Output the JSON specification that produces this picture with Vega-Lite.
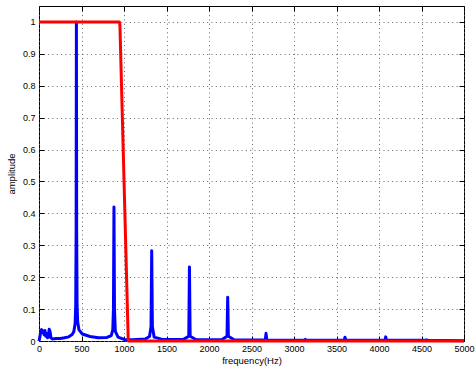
{
  "$schema": "https://vega.github.io/schema/vega-lite/v6.json",
  "width": 425,
  "height": 335,
  "autosize": {"type": "none"},
  "padding": {"left": 39, "top": 6, "right": 11, "bottom": 26},
  "background": "white",
  "config": {
    "view": {"stroke": "black", "strokeWidth": 1},
    "font": "Liberation Sans",
    "axis": {
      "domain": false,
      "tickColor": "black",
      "tickSize": -5,
      "tickWidth": 1,
      "labelFontSize": 9,
      "labelColor": "black",
      "titleFontSize": 9.5,
      "titleFontWeight": "normal",
      "titleColor": "black",
      "gridColor": "#666",
      "gridDash": [1, 3.3],
      "gridOpacity": 1,
      "gridWidth": 1
    }
  },
  "datasets": {
    "spectrum": [
      {"f": 0, "a": 0}, {"f": 10, "a": 0.012}, {"f": 20, "a": 0.03}, {"f": 30, "a": 0.036},
      {"f": 40, "a": 0.027}, {"f": 50, "a": 0.031}, {"f": 60, "a": 0.02}, {"f": 70, "a": 0.033},
      {"f": 80, "a": 0.015}, {"f": 90, "a": 0.024}, {"f": 100, "a": 0.01}, {"f": 110, "a": 0.012},
      {"f": 120, "a": 0.037}, {"f": 130, "a": 0.03}, {"f": 140, "a": 0.01}, {"f": 160, "a": 0.006},
      {"f": 200, "a": 0.008}, {"f": 250, "a": 0.008}, {"f": 300, "a": 0.01}, {"f": 350, "a": 0.013},
      {"f": 390, "a": 0.02}, {"f": 410, "a": 0.03}, {"f": 425, "a": 0.055}, {"f": 432, "a": 0.11},
      {"f": 437, "a": 0.35}, {"f": 440, "a": 1.0}, {"f": 443, "a": 0.35}, {"f": 448, "a": 0.11},
      {"f": 455, "a": 0.06}, {"f": 470, "a": 0.035}, {"f": 510, "a": 0.022}, {"f": 600, "a": 0.014},
      {"f": 700, "a": 0.01}, {"f": 800, "a": 0.011}, {"f": 850, "a": 0.017}, {"f": 868, "a": 0.035},
      {"f": 876, "a": 0.1}, {"f": 882, "a": 0.42}, {"f": 888, "a": 0.1}, {"f": 898, "a": 0.03},
      {"f": 930, "a": 0.012}, {"f": 1000, "a": 0.005}, {"f": 1100, "a": 0.004}, {"f": 1250, "a": 0.006},
      {"f": 1300, "a": 0.014}, {"f": 1318, "a": 0.045}, {"f": 1326, "a": 0.283}, {"f": 1334, "a": 0.045},
      {"f": 1355, "a": 0.012}, {"f": 1450, "a": 0.005}, {"f": 1700, "a": 0.005}, {"f": 1762, "a": 0.015},
      {"f": 1770, "a": 0.232}, {"f": 1778, "a": 0.015}, {"f": 1850, "a": 0.004}, {"f": 2150, "a": 0.004},
      {"f": 2212, "a": 0.015}, {"f": 2220, "a": 0.137}, {"f": 2228, "a": 0.015}, {"f": 2300, "a": 0.003},
      {"f": 2662, "a": 0.003}, {"f": 2671, "a": 0.024}, {"f": 2680, "a": 0.003}, {"f": 3124, "a": 0.002},
      {"f": 3133, "a": 0.005}, {"f": 3142, "a": 0.002}, {"f": 3592, "a": 0.002}, {"f": 3600, "a": 0.012},
      {"f": 3608, "a": 0.002}, {"f": 4071, "a": 0.002}, {"f": 4079, "a": 0.013}, {"f": 4087, "a": 0.002},
      {"f": 4554, "a": 0.002}, {"f": 4561, "a": 0.004}, {"f": 4568, "a": 0.002}, {"f": 5000, "a": 0.001}
    ],
    "filter": [
      {"f": 0, "a": 1}, {"f": 945, "a": 1}, {"f": 952, "a": 0.99}, {"f": 1050, "a": 0}, {"f": 5000, "a": 0}
    ]
  },
  "layer": [
    {
      "data": {"name": "spectrum"},
      "mark": {"type": "line", "color": "#0000ff", "strokeWidth": 3, "strokeJoin": "round"},
      "encoding": {
        "x": {
          "field": "f", "type": "quantitative",
          "scale": {"domain": [0, 5000], "nice": false, "zero": false},
          "axis": {
            "orient": "bottom", "values": [0, 500, 1000, 1500, 2000, 2500, 3000, 3500, 4000, 4500, 5000],
            "format": "d", "grid": true, "labelPadding": 8.5, "labelFlush": false,
            "title": "frequency(Hz)", "titleY": 14, "titleBaseline": "top"
          }
        },
        "y": {
          "field": "a", "type": "quantitative",
          "scale": {"domain": [0, 1.05], "nice": false},
          "axis": {
            "orient": "left", "values": [0, 0.1, 0.2, 0.3, 0.4, 0.5, 0.6, 0.7, 0.8, 0.9, 1],
            "format": "~g", "grid": true, "labelPadding": 9,
            "title": "amplitude", "titleX": -23, "titleBaseline": "bottom"
          }
        }
      }
    },
    {
      "data": {"name": "filter"},
      "mark": {"type": "line", "color": "#ff0000", "strokeWidth": 3, "strokeJoin": "round"},
      "encoding": {
        "x": {
          "field": "f", "type": "quantitative",
          "axis": {
            "orient": "top", "values": [0, 500, 1000, 1500, 2000, 2500, 3000, 3500, 4000, 4500, 5000],
            "labels": false, "grid": false, "title": null
          }
        },
        "y": {
          "field": "a", "type": "quantitative",
          "axis": {
            "orient": "right", "values": [0, 0.1, 0.2, 0.3, 0.4, 0.5, 0.6, 0.7, 0.8, 0.9, 1],
            "labels": false, "grid": false, "title": null
          }
        }
      }
    }
  ],
  "resolve": {"axis": {"x": "independent", "y": "independent"}}
}
